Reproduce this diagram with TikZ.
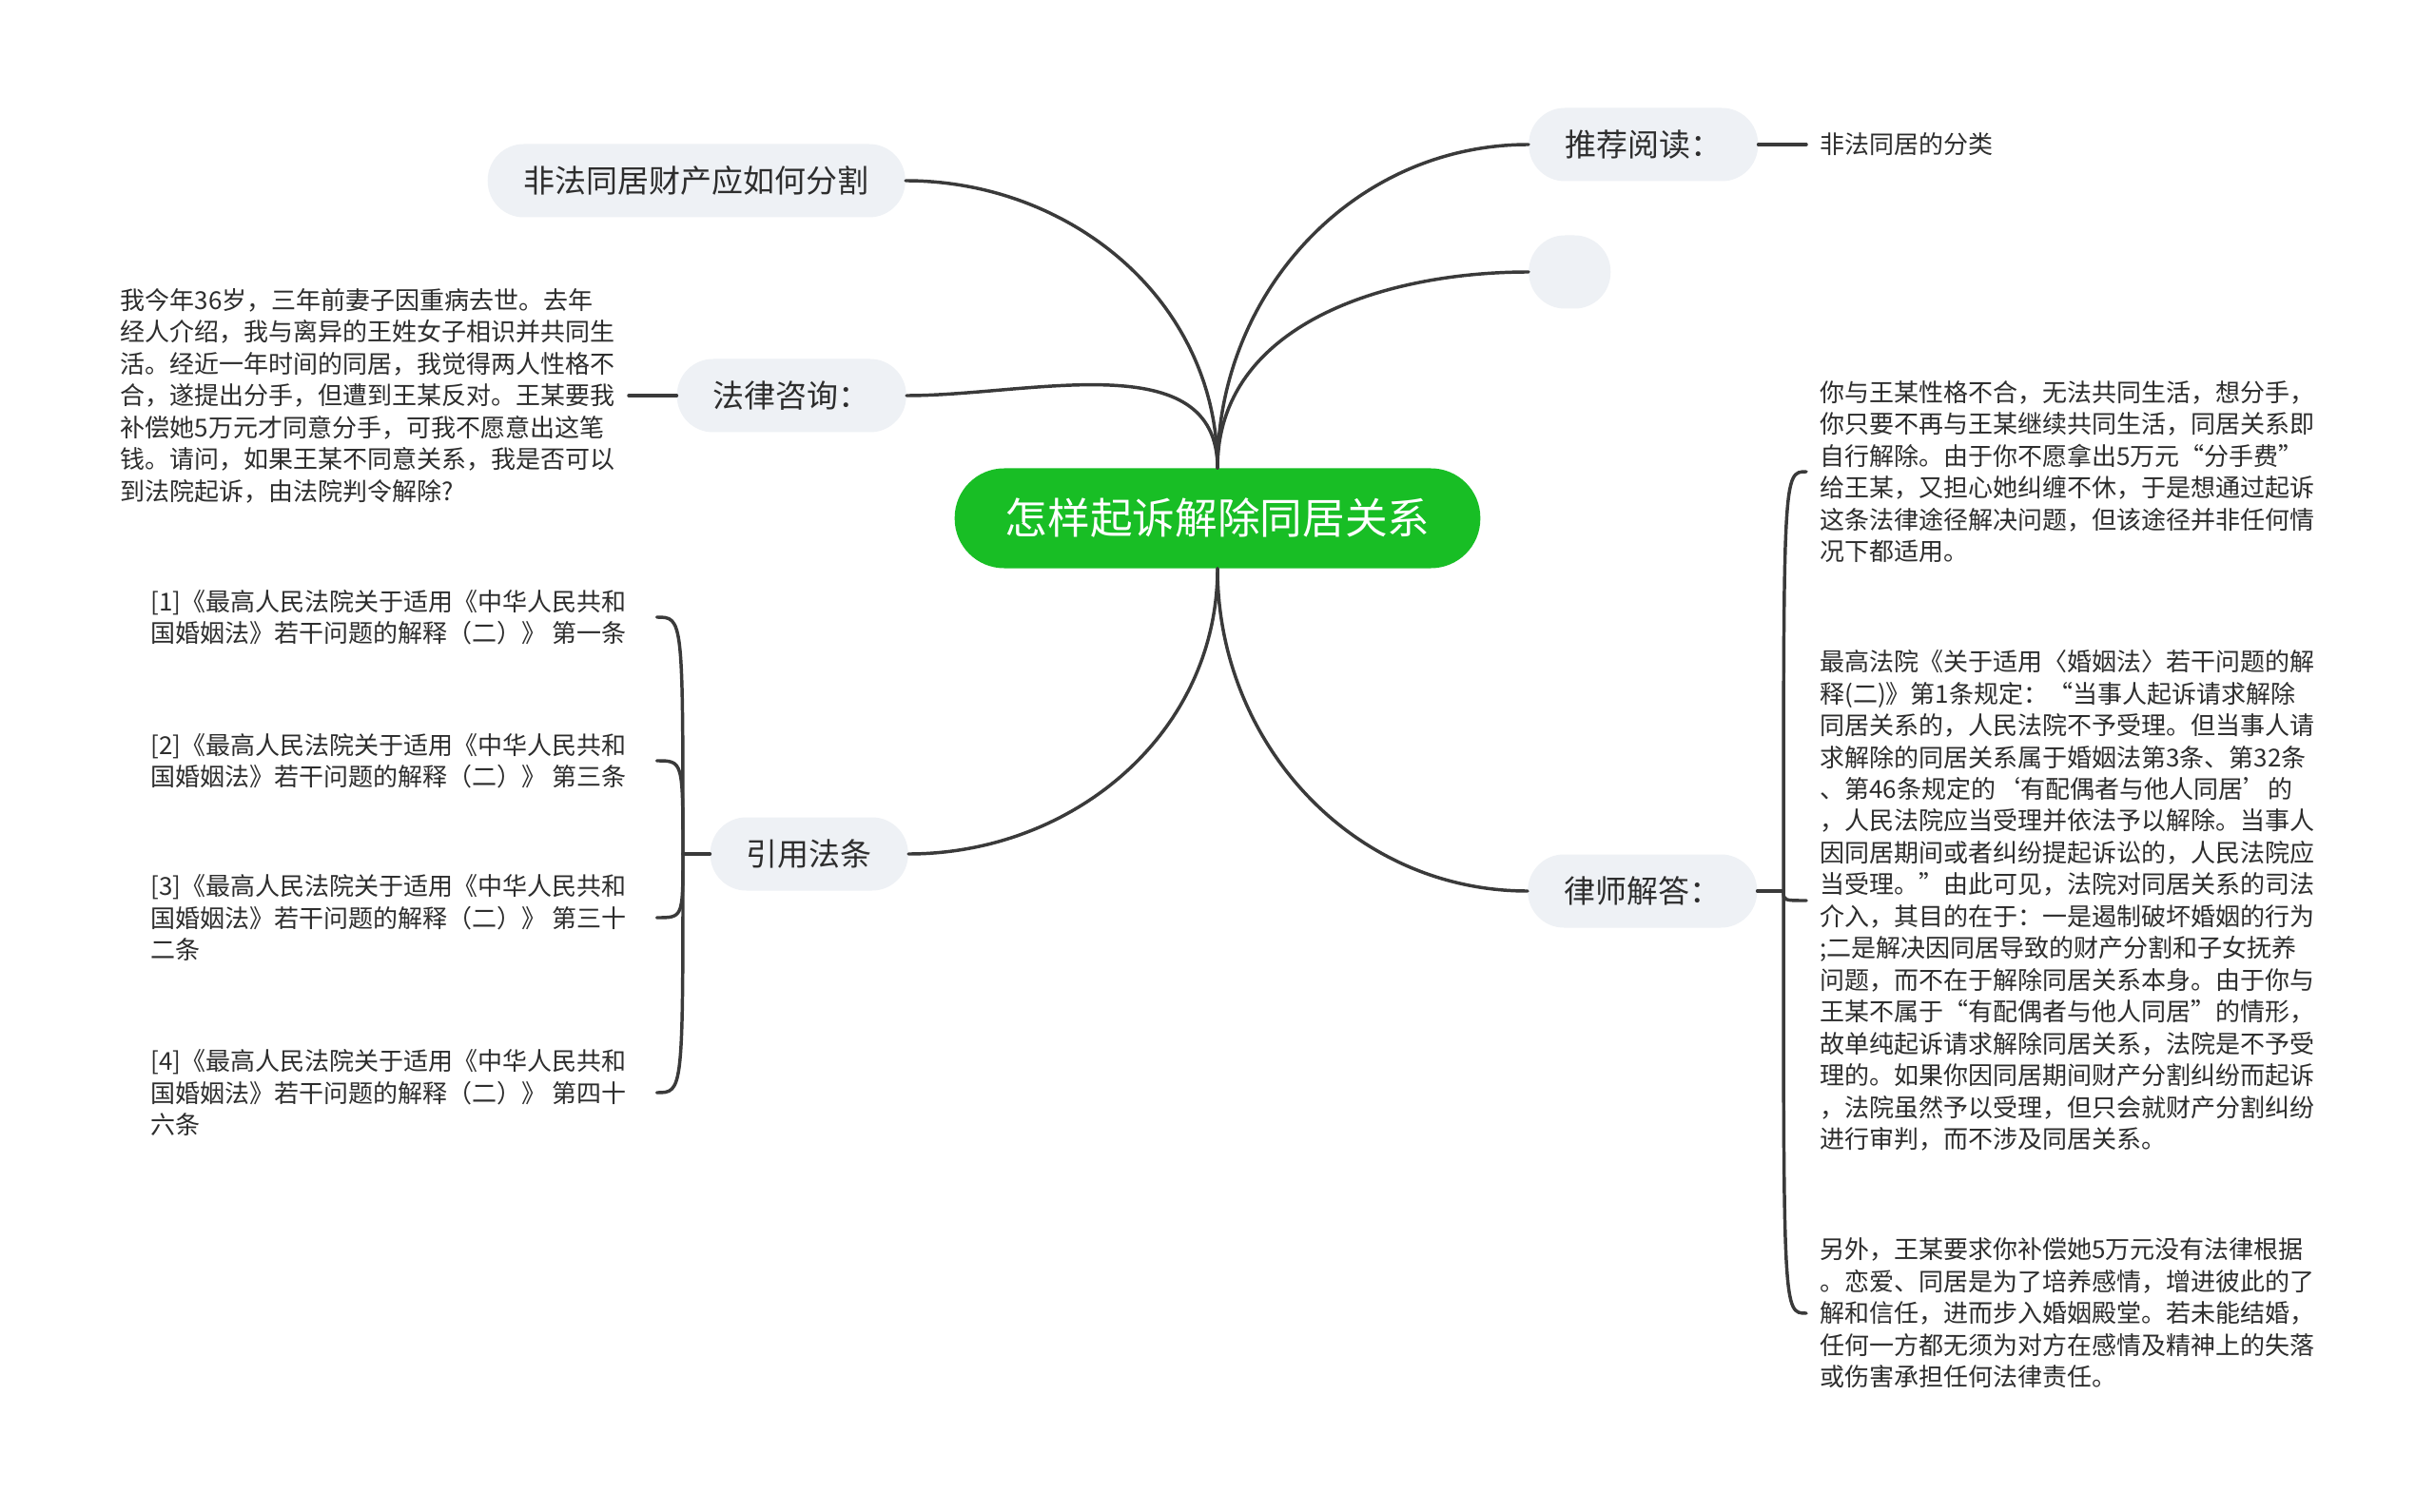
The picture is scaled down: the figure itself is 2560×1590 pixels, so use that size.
\documentclass[tikz,border=0pt]{standalone}
\usepackage{fontspec}
\setmainfont{Noto Sans CJK SC}
\definecolor{rootgreen}{RGB}{24,190,37}
\definecolor{topicgray}{RGB}{238,241,245}
\definecolor{linegray}{RGB}{58,58,58}
\definecolor{textgray}{RGB}{45,45,45}

\begin{document}
\begin{tikzpicture}[x=0.75pt, y=-0.75pt,
    root/.style={fill=rootgreen, text=white, rounded corners=39pt, minimum height=78.75pt,
        inner xsep=39.75pt, inner ysep=0pt, font=\fontsize{33.5pt}{40pt}\selectfont},
    topic/.style={fill=topicgray, text=textgray, rounded corners=28.5pt, minimum height=57.75pt,
        inner xsep=28.5pt, inner ysep=0pt, font=\fontsize{24.75pt}{30pt}\selectfont},
    leaf/.style={text=textgray, align=left, inner xsep=10.5pt, inner ysep=0pt,
        font=\fontsize{19.5pt}{25.1pt}\selectfont},
    cite/.style={leaf, inner xsep=24pt},
    link/.style={draw=linegray, line width=2.6pt, line cap=round}]

    \useasboundingbox (0,0) rectangle (2560,1590);
    \fill[white] (0,0) rectangle (2560,1590);

    % Central topic
    \node[root] (root) at (1280,545) {怎样起诉解除同居关系};

    % Left branches
    \node[topic, anchor=east] (split) at (952,190) {非法同居财产应如何分割};
    \node[topic, anchor=east] (consult) at (953,416) {法律咨询：};
    \node[topic, anchor=east] (cite) at (955,898) {引用法条};

    % Right branches
    \node[topic, anchor=west] (read) at (1607,152) {推荐阅读：};
    \node[topic, anchor=west, minimum width=64.5pt] (blank) at (1607,286) {};
    \node[topic, anchor=west] (lawyer) at (1606,937) {律师解答：};

    % Question
    \node[leaf, anchor=east] (ask) at (661,416) {我今年36岁，三年前妻子因重病去世。去年\\
经人介绍，我与离异的王姓女子相识并共同生\\
活。经近一年时间的同居，我觉得两人性格不\\
合，遂提出分手，但遭到王某反对。王某要我\\
补偿她5万元才同意分手，可我不愿意出这笔\\
钱。请问，如果王某不同意关系，我是否可以\\
到法院起诉，由法院判令解除?};

    % Cited articles
    \foreach \n/\y/\txt in {
        1/649/{[1]《最高人民法院关于适用《中华人民共和\\国婚姻法》若干问题的解释（二）》 第一条},
        2/800/{[2]《最高人民法院关于适用《中华人民共和\\国婚姻法》若干问题的解释（二）》 第三条},
        3/965/{[3]《最高人民法院关于适用《中华人民共和\\国婚姻法》若干问题的解释（二）》 第三十\\二条},
        4/1149/{[4]《最高人民法院关于适用《中华人民共和\\国婚姻法》若干问题的解释（二）》 第四十\\六条}} {
        \node[cite, anchor=west] (c\n) at (126,\y) {\txt};
    }

    % Recommended reading
    \node[leaf, anchor=west] (readleaf) at (1899,152) {非法同居的分类};

    % Lawyer's answer
    \node[leaf, anchor=west] (ans1) at (1899,496) {你与王某性格不合，无法共同生活，想分手，\\
你只要不再与王某继续共同生活，同居关系即\\
自行解除。由于你不愿拿出5万元“分手费”\\
给王某，又担心她纠缠不休，于是想通过起诉\\
这条法律途径解决问题，但该途径并非任何情\\
况下都适用。};
    \node[leaf, anchor=west] (ans2) at (1899,947) {最高法院《关于适用〈婚姻法〉若干问题的解\\
释(二)》第1条规定：“当事人起诉请求解除\\
同居关系的，人民法院不予受理。但当事人请\\
求解除的同居关系属于婚姻法第3条、第32条\\
、第46条规定的‘有配偶者与他人同居’的\\
，人民法院应当受理并依法予以解除。当事人\\
因同居期间或者纠纷提起诉讼的，人民法院应\\
当受理。”由此可见，法院对同居关系的司法\\
介入，其目的在于：一是遏制破坏婚姻的行为\\
;二是解决因同居导致的财产分割和子女抚养\\
问题，而不在于解除同居关系本身。由于你与\\
王某不属于“有配偶者与他人同居”的情形，\\
故单纯起诉请求解除同居关系，法院是不予受\\
理的。如果你因同居期间财产分割纠纷而起诉\\
，法院虽然予以受理，但只会就财产分割纠纷\\
进行审判，而不涉及同居关系。};
    \node[leaf, anchor=west] (ans3) at (1899,1381) {另外，王某要求你补偿她5万元没有法律根据\\
。恋爱、同居是为了培养感情，增进彼此的了\\
解和信任，进而步入婚姻殿堂。若未能结婚，\\
任何一方都无须为对方在感情及精神上的失落\\
或伤害承担任何法律责任。};

    % Main links
    \draw[link] (root.north) to[out=90, in=0] (split.east);
    \draw[link] (root.north) to[out=90, in=0] (consult.east);
    \draw[link] (root.south) to[out=-90, in=0] (cite.east);
    \draw[link] (root.north) to[out=90, in=180] (read.west);
    \draw[link] (root.north) to[out=90, in=180] (blank.west);
    \draw[link] (root.south) to[out=-90, in=180] (lawyer.west);

    % Leaf links
    \draw[link] (consult.west) -- (ask.east);
    \draw[link] (read.east) -- (readleaf.west);

    \coordinate (citej) at (718,898);
    \draw[link] (cite.west) -- (citej);
    \foreach \n in {1,...,4}
        \draw[link] (citej) .. controls (citej |- c\n.east) .. (c\n.east);

    \coordinate (ansj) at (1875,937);
    \draw[link] (lawyer.east) -- (ansj);
    \foreach \n in {1,2,3}
        \draw[link] (ansj) .. controls (ansj |- ans\n.west) .. (ans\n.west);
\end{tikzpicture}
\end{document}
